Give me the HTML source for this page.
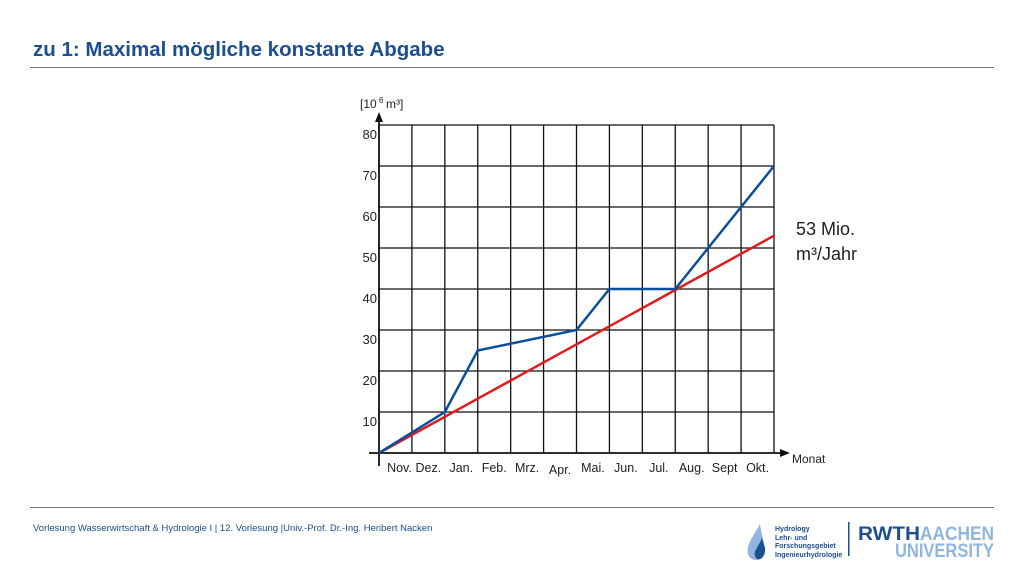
<!DOCTYPE html>
<html><head><meta charset="utf-8"><style>
body{margin:0;width:1024px;height:576px;background:#fff;font-family:"Liberation Sans",sans-serif;position:relative;overflow:hidden}
.t{position:absolute;left:33px;top:38px;font-size:20.5px;font-weight:bold;color:#1b4f8f}
.hr{position:absolute;left:30px;width:964px;height:1px;background:#777}
.foot{position:absolute;left:33px;top:523px;font-size:9.5px;color:#1b4f8f}
</style></head><body>
<div class="t">zu 1: Maximal mögliche konstante Abgabe</div>
<div class="hr" style="top:67px"></div>
<div class="hr" style="top:507px"></div>
<div class="foot">Vorlesung Wasserwirtschaft &amp; Hydrologie I | 12. Vorlesung |Univ.-Prof. Dr.-Ing. Heribert Nacken</div>
<svg width="1024" height="576" style="position:absolute;left:0;top:0">
<g id="grid"></g><g id="lines"></g><g id="labels" font-family="Liberation Sans, sans-serif"></g>
<g>
<path d="M760 524 C752 538 746 546 748 554 C750 562 762 562 764 554 C766 546 762 538 760 524Z" fill="#8fb6e0"/>
<path d="M762 538 C758 548 752 552 756 558 C760 562 766 556 765 548Z" fill="#1b4f8f"/>
<text x="775" y="531" font-size="7" font-weight="bold" fill="#1b4f8f" font-family="Liberation Sans">Hydrology</text>
<text x="775" y="540" font-size="7" font-weight="bold" fill="#1b4f8f" font-family="Liberation Sans">Lehr- und</text>
<text x="775" y="548" font-size="7" font-weight="bold" fill="#1b4f8f" font-family="Liberation Sans">Forschungsgebiet</text>
<text x="775" y="557" font-size="7" font-weight="bold" fill="#1b4f8f" font-family="Liberation Sans">Ingenieurhydrologie</text>
<rect x="848" y="522" width="1.5" height="34" fill="#1b4f8f"/>
<text x="858" y="540" font-size="19" font-weight="bold" fill="#1b4f8f" font-family="Liberation Sans" textLength="62" lengthAdjust="spacingAndGlyphs">RWTH</text>
<text x="920" y="540" font-size="19" font-weight="bold" fill="#8fb6e0" font-family="Liberation Sans" textLength="74" lengthAdjust="spacingAndGlyphs">AACHEN</text>
<text x="895" y="557" font-size="19" font-weight="bold" fill="#8fb6e0" font-family="Liberation Sans" textLength="99" lengthAdjust="spacingAndGlyphs">UNIVERSITY</text>
</g>
</svg>
<script>
const months=["Nov.","Dez.","Jan.","Feb.","Mrz.","Apr.","Mai.","Jun.","Jul.","Aug.","Sept","Okt."];
const yTicks=[10,20,30,40,50,60,70,80];
const blueX=[0,2,3,6,7,9,10,11,12];
const blueY=[0,10,25,30,40,40,50,60,70];
const redX=[0,12];
const redY=[0,53];
const X0=379,X1=774,Y0=453,Y80=125;
const sx=m=>X0+(X1-X0)*m/12, sy=v=>Y0-(Y0-Y80)*v/80;
const NS="http://www.w3.org/2000/svg";
function mk(tag,attrs,parent){const e=document.createElementNS(NS,tag);for(const k in attrs)e.setAttribute(k,attrs[k]);document.getElementById(parent).appendChild(e);return e;}
for(let i=1;i<=12;i++){const l=mk('line',{x1:sx(i),x2:sx(i),y1:Y80,y2:Y0,stroke:'#111','stroke-width':1.3},'grid');

}
yTicks.forEach(v=>{const l=mk('line',{x1:X0,x2:X1,y1:sy(v),y2:sy(v),stroke:'#111','stroke-width':1.3},'grid');


const t=mk('text',{x:X0-2,y:sy(v)+14,'font-size':13,'text-anchor':'end',fill:'#222'},'labels');t.textContent=v;

});
const ax=mk('path',{d:`M${X0} 466 L${X0} 118 M369 ${Y0} L782 ${Y0}`,stroke:'#111','stroke-width':1.8,fill:'none'},'grid');


const ar=mk('path',{d:`M${X0-4} 122 L${X0} 112 L${X0+4} 122Z M780 ${Y0-4} L790 ${Y0} L780 ${Y0+4}Z`,fill:'#111'},'grid');


months.forEach((m,i)=>{const t=mk('text',{x:sx(i+0.5)+(i==0?4:0),y:i==5?474:472,'font-size':12.5,'text-anchor':'middle',fill:'#222'},'labels');t.textContent=m;

});
const r=mk('polyline',{points:redX.map((x,i)=>sx(x)+','+sy(redY[i])).join(' '),stroke:'#e01b1b','stroke-width':2.5,fill:'none'},'lines');


const b=mk('polyline',{points:blueX.map((x,i)=>sx(x)+','+sy(blueY[i])).join(' '),stroke:'#0b4f9c','stroke-width':2.5,fill:'none'},'lines');


[["[10",360,108,12],["m³]",386,108,12],["Monat",792,463,12],["53 Mio.",796,235,18],["m³/Jahr",796,260,18]].forEach(a=>{const t=mk('text',{x:a[1],y:a[2],'font-size':a[3],fill:'#222'},'labels');t.textContent=a[0];

});
const s=mk('text',{x:379,y:103,'font-size':8,fill:'#222'},'labels');s.textContent="6";


</script>
</body></html>
